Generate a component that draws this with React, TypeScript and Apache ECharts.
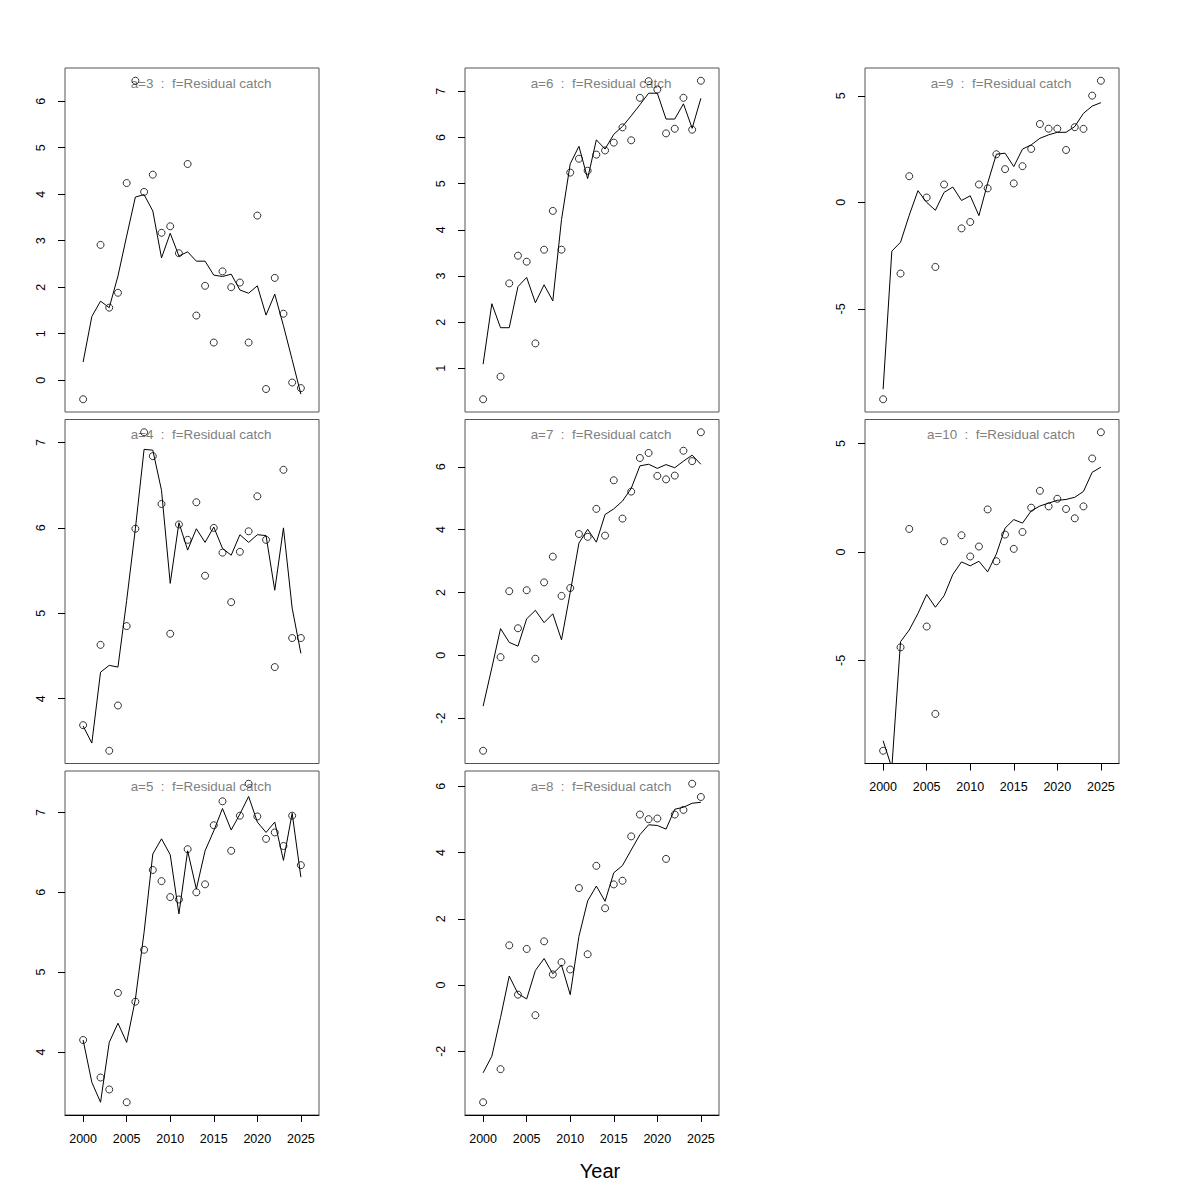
import React, { useEffect, useRef } from "react";
import * as echarts from "echarts";

const years = [2000, 2001, 2002, 2003, 2004, 2005, 2006, 2007, 2008, 2009, 2010, 2011, 2012, 2013, 2014, 2015, 2016, 2017, 2018, 2019, 2020, 2021, 2022, 2023, 2024, 2025];

const ages = [3, 4, 5, 6, 7, 8, 9, 10];

const obs3 = [-0.41, null, 2.91, 1.56, 1.88, 4.24, 6.44, 4.05, 4.42, 3.17, 3.31, 2.73, 4.65, 1.39, 2.03, 0.81, 2.34, 2.0, 2.1, 0.81, 3.54, -0.19, 2.2, 1.43, -0.05, -0.17];
const fit3 = [0.39, 1.37, 1.7, 1.56, 2.24, 3.1, 3.94, 3.99, 3.64, 2.63, 3.16, 2.67, 2.76, 2.56, 2.56, 2.26, 2.23, 2.28, 1.94, 1.87, 2.03, 1.4, 1.85, 1.17, 0.44, -0.3];

const obs4 = [3.69, null, 4.63, 3.39, 3.92, 4.85, 5.99, 7.12, 6.84, 6.28, 4.76, 6.04, 5.86, 6.3, 5.44, 6.0, 5.71, 5.13, 5.72, 5.96, 6.37, 5.86, 4.37, 6.68, 4.71, 4.71];
const fit4 = [3.68, 3.48, 4.31, 4.39, 4.37, 5.15, 5.99, 6.92, 6.91, 6.44, 5.35, 6.06, 5.74, 5.99, 5.83, 6.01, 5.76, 5.68, 5.92, 5.83, 5.92, 5.91, 5.27, 6.0, 5.06, 4.53];

const obs5 = [4.15, null, 3.68, 3.53, 4.74, 3.37, 4.63, 5.28, 6.28, 6.14, 5.94, 5.91, 6.54, 6.0, 6.1, 6.84, 7.14, 6.52, 6.96, 7.36, 6.95, 6.67, 6.75, 6.58, 6.96, 6.34];
const fit5 = [4.15, 3.62, 3.37, 4.12, 4.36, 4.12, 4.66, 5.5, 6.48, 6.67, 6.47, 5.73, 6.52, 6.04, 6.52, 6.77, 7.05, 6.78, 6.98, 7.2, 6.88, 6.75, 6.88, 6.4, 6.99, 6.19];

const obs6 = [0.33, null, 0.82, 2.84, 3.44, 3.31, 1.54, 3.57, 4.41, 3.57, 5.24, 5.54, 5.28, 5.63, 5.72, 5.89, 6.22, 5.94, 6.86, 7.22, 7.04, 6.09, 6.19, 6.86, 6.17, 7.23];
const fit6 = [1.09, 2.4, 1.88, 1.88, 2.77, 2.97, 2.42, 2.81, 2.46, 4.22, 5.43, 5.81, 5.11, 5.95, 5.75, 6.07, 6.24, 6.47, 6.71, 6.96, 6.96, 6.4, 6.4, 6.73, 6.2, 6.85];

const obs7 = [-3.04, null, -0.06, 2.04, 0.86, 2.07, -0.11, 2.32, 3.14, 1.89, 2.14, 3.86, 3.77, 4.66, 3.81, 5.57, 4.35, 5.21, 6.28, 6.44, 5.71, 5.6, 5.72, 6.51, 6.18, 7.1];
const fit7 = [-1.62, -0.4, 0.85, 0.41, 0.29, 1.16, 1.43, 1.04, 1.32, 0.49, 2.0, 3.57, 4.01, 3.6, 4.48, 4.66, 4.91, 5.31, 6.03, 6.08, 5.95, 6.07, 5.97, 6.18, 6.37, 6.08];

const obs8 = [-3.54, null, -2.54, 1.2, -0.29, 1.09, -0.91, 1.32, 0.32, 0.69, 0.47, 2.93, 0.93, 3.6, 2.32, 3.04, 3.15, 4.49, 5.15, 5.01, 5.03, 3.81, 5.15, 5.29, 6.08, 5.68];
const fit8 = [-2.65, -2.15, -0.98, 0.27, -0.26, -0.42, 0.44, 0.8, 0.34, 0.6, -0.29, 1.47, 2.54, 2.99, 2.53, 3.39, 3.61, 4.08, 4.54, 4.84, 4.82, 4.71, 5.31, 5.37, 5.49, 5.52];

const obs9 = [-9.24, null, -3.34, 1.23, null, 0.23, -3.03, 0.84, null, -1.22, -0.92, 0.84, 0.66, 2.26, 1.56, 0.89, 1.7, 2.51, 3.68, 3.46, 3.46, 2.46, 3.53, 3.45, 5.01, 5.71];
const fit9 = [-8.77, -2.29, -1.87, -0.6, 0.55, 0.0, -0.37, 0.47, 0.72, 0.09, 0.31, -0.62, 0.9, 2.26, 2.31, 1.68, 2.5, 2.7, 3.01, 3.17, 3.29, 3.29, 3.56, 4.18, 4.52, 4.68];

const obs10 = [-9.17, null, -4.4, 1.06, null, -3.44, -7.47, 0.49, null, 0.77, -0.21, 0.25, 1.96, -0.43, 0.8, 0.14, 0.92, 2.04, 2.82, 2.1, 2.45, 1.98, 1.55, 2.1, 4.31, 5.52];
const fit10 = [-8.71, -9.95, -4.14, -3.6, -2.84, -1.96, -2.55, -2.02, -1.04, -0.46, -0.64, -0.43, -0.92, -0.1, 1.1, 1.49, 1.33, 1.89, 2.12, 2.25, 2.38, 2.42, 2.52, 2.79, 3.67, 3.91];

const xTicks = [2000, 2005, 2010, 2015, 2020, 2025];
const yTicks3 = [0, 1, 2, 3, 4, 5, 6];
const yTicks4 = [4, 5, 6, 7];
const yTicks5 = [4, 5, 6, 7];
const yTicks6 = [1, 2, 3, 4, 5, 6, 7];
const yTicks7 = [-2, 0, 2, 4, 6];
const yTicks8 = [-2, 0, 2, 4, 6];
const yTicks9 = [-5, 0, 5];
const yTicks10 = [-5, 0, 5];

const obsList = [obs3, obs4, obs5, obs6, obs7, obs8, obs9, obs10];
const fitList = [fit3, fit4, fit5, fit6, fit7, fit8, fit9, fit10];
const yTickList = [yTicks3, yTicks4, yTicks5, yTicks6, yTicks7, yTicks8, yTicks9, yTicks10];

const panelTitle = (a: number) => `a=${a}  :  f=Residual catch`;
const xLabel = "Year";

const FONT = "Liberation Sans, Arial, Helvetica, sans-serif";

export default function App() {
  const ref = useRef<HTMLDivElement>(null);
  useEffect(() => {
    document.body.style.margin = "0";
    if (!ref.current) return;
    const chart = echarts.init(ref.current, undefined, { renderer: "svg" });

    const colLeft = [65, 465, 865];
    const rowTop = [68, 419.5, 771];
    const W = 254;
    const H = 344;
    const pos = [
      [0, 0], [0, 1], [0, 2],
      [1, 0], [1, 1], [1, 2],
      [2, 0], [2, 1],
    ];
    const bottomPanels = [2, 5, 7];

    const xMin = 1999 - 27 * 0.04;
    const xMax = 2026 + 27 * 0.04;

    const grids: any[] = [];
    const xAxes: any[] = [];
    const yAxes: any[] = [];
    const series: any[] = [];
    const graphics: any[] = [];

    ages.forEach((a, i) => {
      const [c, r] = pos[i];
      const left = colLeft[c];
      const top = rowTop[r];
      grids.push({
        left,
        top,
        width: W,
        height: H,
        show: true,
        borderColor: "#555",
        borderWidth: 1,
        backgroundColor: "transparent",
      });
      const obs = obsList[i];
      const vals = obs.filter((v) => v !== null) as number[];
      const mn = Math.min(...vals);
      const mx = Math.max(...vals);
      const pad = (mx - mn) * 0.04;
      const isBottom = bottomPanels.includes(i);
      xAxes.push({
        type: "value",
        gridIndex: i,
        min: xMin,
        max: xMax,
        show: true,
        axisLine: { show: isBottom, onZero: false, lineStyle: { color: "#000", width: 1 } },
        axisTick: {
          show: isBottom,
          inside: false,
          length: 7,
          customValues: xTicks,
          lineStyle: { color: "#000", width: 1 },
        },
        axisLabel: {
          show: isBottom,
          customValues: xTicks,
          margin: 17,
          fontSize: 12.5,
          fontFamily: FONT,
          color: "#000",
          formatter: (v: number) => String(Math.round(v)),
        },
        splitLine: { show: false },
      });
      yAxes.push({
        type: "value",
        gridIndex: i,
        min: mn - pad,
        max: mx + pad,
        axisLine: { show: false },
        axisTick: {
          show: true,
          inside: false,
          length: 7,
          customValues: yTickList[i],
          lineStyle: { color: "#000", width: 1 },
        },
        axisLabel: {
          show: true,
          rotate: 90,
          customValues: yTickList[i],
          margin: 18,
          fontSize: 12.5,
          fontFamily: FONT,
          color: "#000",
          formatter: (v: number) => String(Math.round(v)),
        },
        splitLine: { show: false },
      });
      series.push({
        type: "line",
        xAxisIndex: i,
        yAxisIndex: i,
        data: years.map((y, k) => [y, fitList[i][k]]),
        showSymbol: false,
        symbol: "none",
        clip: true,
        lineStyle: { color: "#000", width: 1 },
        silent: true,
      });
      series.push({
        type: "scatter",
        xAxisIndex: i,
        yAxisIndex: i,
        data: years
          .map((y, k) => [y, obs[k]])
          .filter((d) => d[1] !== null),
        symbol: "circle",
        symbolSize: 7,
        itemStyle: { color: "transparent", borderColor: "#000", borderWidth: 1 },
        silent: true,
      });
      graphics.push({
        type: "text",
        x: left + 136,
        y: top + 15,
        style: {
          text: panelTitle(a),
          fill: "#808080",
          font: `13.4px ${FONT}`,
          align: "center",
          verticalAlign: "middle",
          textAlign: "center",
          textVerticalAlign: "middle",
        },
      });
    });

    graphics.push({
      type: "text",
      x: 600,
      y: 1171,
      style: {
        text: xLabel,
        fill: "#000",
        font: `20px ${FONT}`,
        align: "center",
        verticalAlign: "middle",
        textAlign: "center",
        textVerticalAlign: "middle",
      },
    });

    chart.setOption({
      animation: false,
      backgroundColor: "#fff",
      grid: grids,
      xAxis: xAxes,
      yAxis: yAxes,
      series,
      graphic: graphics,
    });
    return () => chart.dispose();
  }, []);
  return <div ref={ref} style={{ width: 1200, height: 1200 }} />;
}
